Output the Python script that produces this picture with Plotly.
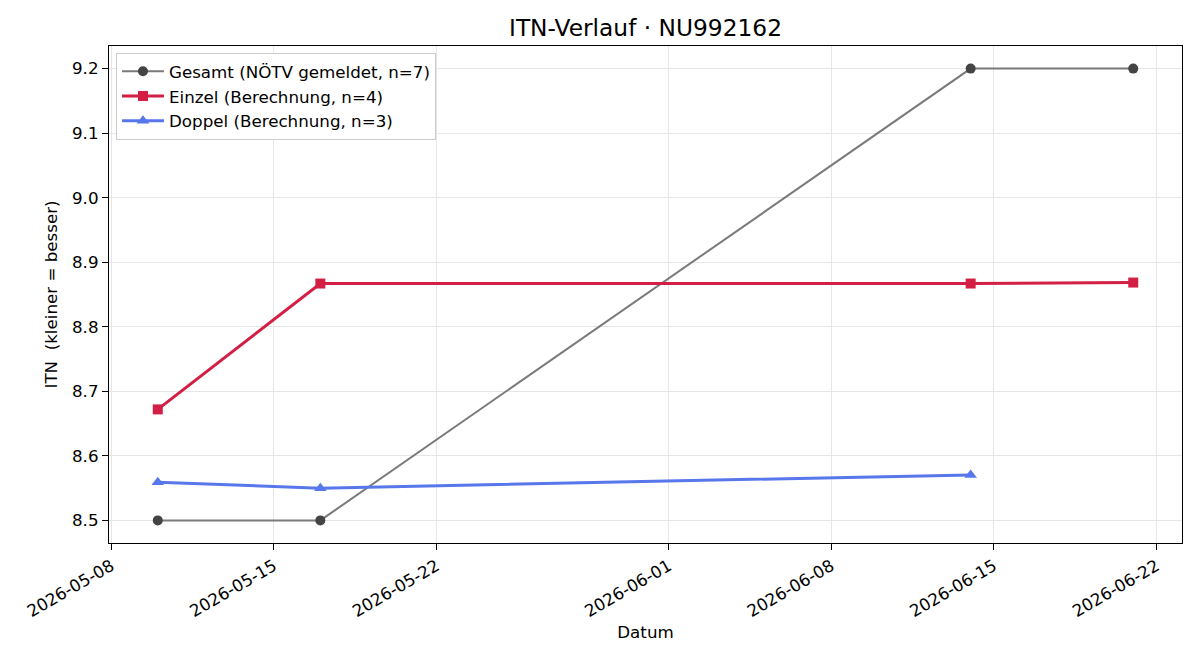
import plotly.graph_objects as go

dates = ["2026-05-10", "2026-05-17", "2026-06-14", "2026-06-21"]
gesamt = [8.5, 8.5, 9.2, 9.2]
einzel = [8.672, 8.867, 8.867, 8.8685]
doppel_dates = ["2026-05-10", "2026-05-17", "2026-06-14"]
doppel = [8.559, 8.550, 8.5705]

x_ticks = ["2026-05-08", "2026-05-15", "2026-05-22", "2026-06-01", "2026-06-08", "2026-06-15", "2026-06-22"]
y_ticks = [8.5, 8.6, 8.7, 8.8, 8.9, 9.0, 9.1, 9.2]

FONT = "DejaVu Sans"
FS = 16.7

fig = go.Figure()
fig.add_trace(go.Scatter(
    x=dates, y=gesamt, mode="lines+markers",
    name="Gesamt (NÖTV gemeldet, n=7)", legendgroup="g",
    line=dict(color="#7a7a7a", width=2),
    marker=dict(symbol="circle", size=10, color="#444444"),
))
fig.add_trace(go.Scatter(
    x=dates, y=einzel, mode="lines+markers",
    name="Einzel (Berechnung, n=4)", legendgroup="e",
    line=dict(color="#d21f43", width=3),
    marker=dict(symbol="square", size=10, color="#d21f43"),
))
fig.add_trace(go.Scatter(
    x=doppel_dates, y=doppel, mode="lines+markers",
    name="Doppel (Berechnung, n=3)", legendgroup="d",
    line=dict(color="#5877ec", width=3),
    marker=dict(symbol="triangle-up", size=11, color="#5877ec"),
))

fig.update_layout(
    width=1200, height=660,
    margin=dict(l=109, r=18, t=46, b=117),
    paper_bgcolor="white", plot_bgcolor="white",
    font=dict(family=FONT, size=FS, color="black"),
    title=dict(text="ITN-Verlauf · NU992162", x=0.5, xanchor="center", xref="paper",
               y=1 - 28 / 660, yanchor="middle",
               font=dict(family=FONT, size=23.3, color="black")),
    showlegend=True,
    legend=dict(x=0.0065, y=0.986, xanchor="left", yanchor="top",
                bgcolor="rgba(255,255,255,0.9)", bordercolor="#cccccc", borderwidth=1,
                font=dict(family=FONT, size=FS), tracegroupgap=0, itemwidth=42,
                traceorder="grouped"),
)

fig.update_xaxes(
    type="date",
    range=["2026-05-07 21:36", "2026-06-23 02:24"],
    tickvals=x_ticks, ticktext=x_ticks, tickangle=-30,
    ticks="outside", ticklen=6, tickcolor="black",
    showline=True, linecolor="black", linewidth=1.2, mirror=True,
    showgrid=True, gridcolor="#e6e6e6", gridwidth=1,
    zeroline=False,
    title=dict(text="Datum", font=dict(family=FONT, size=FS), standoff=6),
    tickfont=dict(family=FONT, size=FS),
)
fig.update_yaxes(
    range=[8.465, 9.235],
    tickvals=y_ticks, tickformat=".1f",
    ticks="outside", ticklen=6, tickcolor="black",
    showline=True, linecolor="black", linewidth=1.2, mirror=True,
    showgrid=True, gridcolor="#e6e6e6", gridwidth=1,
    zeroline=False,
    title=dict(text="ITN\u00a0 (kleiner = besser)", font=dict(family=FONT, size=FS), standoff=10),
    tickfont=dict(family=FONT, size=FS),
)

fig.write_html("out.html")
